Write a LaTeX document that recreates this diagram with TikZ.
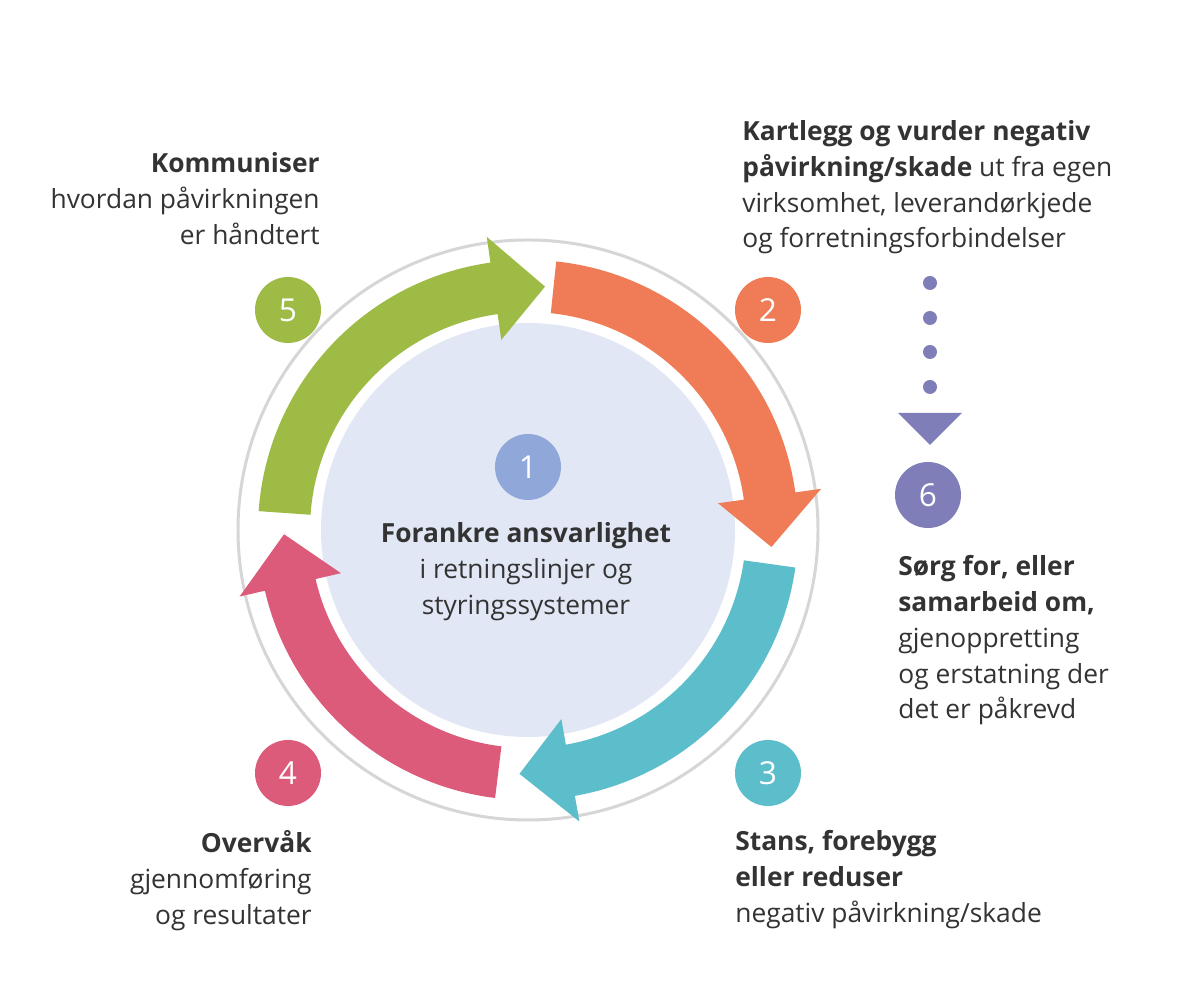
\documentclass[tikz,border=0pt]{standalone}
\usepackage{fontspec}
\setmainfont{Open Sans}
\definecolor{cgreen}{HTML}{9DBB45}
\definecolor{corange}{HTML}{EF7C56}
\definecolor{cteal}{HTML}{5CBDCB}
\definecolor{cpink}{HTML}{DC5B7B}
\definecolor{cpurple}{HTML}{7F7EB9}
\definecolor{cblue}{HTML}{8FA8D9}
\definecolor{cinner}{HTML}{E1E7F4}
\definecolor{cring}{HTML}{D6D6D6}
\definecolor{ctext}{HTML}{333333}
\newcommand{\cyclearrow}[4]{% color, start, headbase, tip
  \fill[#1] (#2:270) arc[start angle=#2, end angle=#3, radius=270] -- (#3:296) -- (#4:244) -- (#3:192) -- (#3:218) arc[start angle=#3, end angle=#2, radius=218] -- cycle;}
\tikzset{
  num/.style={circle, minimum size=1.32cm, inner sep=0, text=white, font=\fontsize{18}{20}\selectfont},
  lbl/.style={text=ctext, font=\fontsize{15}{20.4}\selectfont, inner sep=0},
  dot/.style={circle, fill=cpurple, minimum size=0.28cm, inner sep=0}
}
\begin{document}
\begin{tikzpicture}[x=0.02cm,y=0.02cm]
\useasboundingbox (0,0) rectangle (1178,990);
\fill[white] (0,0) rectangle (1178,990);
\begin{scope}[shift={(528,460)}]
  \draw[cring, line width=1.7pt] (0,0) circle[radius=290];
  \fill[cinner] (0,0) circle[radius=207];
  \cyclearrow{cgreen}{176}{98}{86}
  \cyclearrow{corange}{84}{8}{-4}
  \cyclearrow{cteal}{-8}{-80}{-92}
  \cyclearrow{cpink}{-97}{-167}{-179}
\end{scope}
\node[num, fill=cgreen] (n5) at (288,680) {5};
\node[num, fill=corange] (n2) at (768,680) {2};
\node[num, fill=cteal] (n3) at (768,217) {3};
\node[num, fill=cpink] (n4) at (288,217) {4};
\node[num, fill=cblue] (n1) at (528,523) {1};
\node[num, fill=cpurple] (n6) at (928,495) {6};
\node[dot] (d1) at (930,707) {};
\node[dot] (d2) at (930,672) {};
\node[dot] (d3) at (930,638) {};
\node[dot] (d4) at (930,603) {};
\fill[cpurple] (898,577) -- (962,577) -- (930,545) -- cycle;
\node[lbl, anchor=north east, align=right] (t5) at (320,838)
  {\textbf{Kommuniser}\\hvordan påvirkningen\\er håndtert};
\node[lbl, anchor=north west, align=left] (t2) at (742,870)
  {\textbf{Kartlegg og vurder negativ}\\\textbf{påvirkning/skade} ut fra egen\\virksomhet, leverandørkjede\\og forretningsforbindelser};
\node[lbl, anchor=north, align=center] (t1) at (526,468)
  {\textbf{Forankre ansvarlighet}\\i retningslinjer og\\styringssystemer};
\node[lbl, anchor=north west, align=left] (t6) at (898,435)
  {\textbf{Sørg for, eller}\\\textbf{samarbeid om,}\\gjenoppretting\\og erstatning der\\det er påkrevd};
\node[lbl, anchor=north west, align=left] (t3) at (735,160)
  {\textbf{Stans, forebygg}\\\textbf{eller reduser}\\negativ påvirkning/skade};
\node[lbl, anchor=north east, align=right] (t4) at (312,160)
  {\textbf{Overvåk}\\gjennomføring\\og resultater};
\end{tikzpicture}
\end{document}
